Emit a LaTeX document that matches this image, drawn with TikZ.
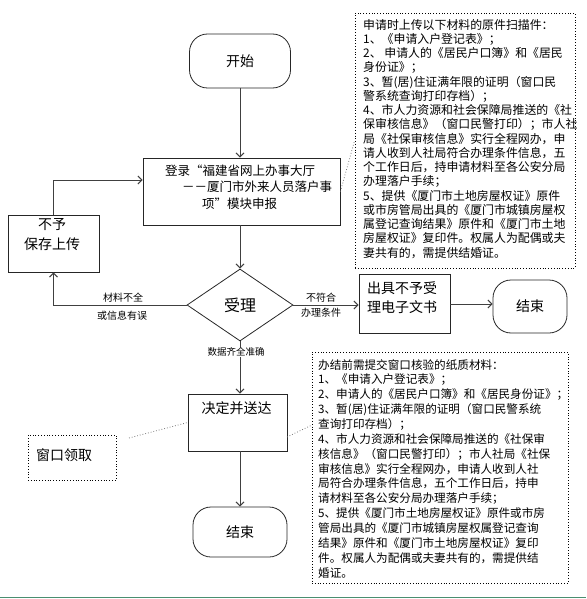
\documentclass[tikz,border=0pt]{standalone}
\usepackage{fontspec}
\setmainfont{Noto Sans CJK SC}
\usetikzlibrary{arrows.meta,shapes.geometric}
\definecolor{lineg}{RGB}{64,64,64}
\definecolor{calloutg}{RGB}{120,120,120}
\definecolor{bargreen}{RGB}{74,142,112}
\tikzset{
  box/.style={draw=black!85, line width=0.8pt, inner sep=0pt},
  term/.style={box, rounded corners=18pt},
  notebox/.style={draw=black, dotted, line width=0.8pt, inner sep=0pt},
  conn/.style={draw=lineg, line width=1pt, -{Straight Barb[length=4pt,width=8pt]}},
  callout/.style={draw=calloutg, dotted, line width=0.8pt},
  lbl/.style={font=\fontsize{10}{12}\selectfont, inner sep=1pt},
  txt/.style={inner sep=0pt}
}
\begin{document}
\begin{tikzpicture}[x=1pt,y=-1pt]
\useasboundingbox (0,0) rectangle (586,599);

% main flow
\node[term, minimum width=101pt, minimum height=54pt, font=\fontsize{14}{16}\selectfont] (start) at (240,61) {开始};
\node[box, minimum width=197pt, minimum height=67pt] (login) at (241.5,191.5) {};
\node[txt, anchor=west, align=left, font=\fontsize{12.5}{16.5}\selectfont] (logintxt) at (165,187) {登录“福建省网上办事大厅\\\hspace*{17pt}－－厦门市外来人员落户事\\\hspace*{37pt}项”模块申报};
\node[diamond, draw=black!85, line width=0.8pt, inner sep=0pt, aspect=1.47, minimum width=106pt, minimum height=72pt, font=\fontsize{16}{18}\selectfont] (dia) at (240,305) {受理};
\node[box, minimum width=91pt, minimum height=57pt] (nosave) at (53.5,243.5) {};
\node[txt, align=center, font=\fontsize{14}{20}\selectfont] (nosavetxt) at (52,235) {不予\\保存上传};
\node[box, minimum width=91pt, minimum height=59pt] (rej) at (404.5,304) {};
\node[txt, anchor=west, align=left, font=\fontsize{14}{19}\selectfont] (rejtxt) at (367,297.5) {出具不予受\\理电子文书};
\node[term, minimum width=74pt, minimum height=53pt, font=\fontsize{14}{16}\selectfont] (end1) at (530,306.5) {结束};
\node[box, minimum width=99pt, minimum height=57pt] (dec) at (237.5,422.5) {};
\node[txt, font=\fontsize{14}{16}\selectfont] (dectxt) at (236.5,408) {决定并送达};
\node[term, minimum width=94pt, minimum height=50pt, font=\fontsize{14}{16}\selectfont] (end2) at (240,532) {结束};
\node[notebox, minimum width=88pt, minimum height=45pt] (win) at (72,457.5) {};
\node[txt, anchor=west, font=\fontsize{14}{16}\selectfont] (wintxt) at (36,455) {窗口领取};

% notes
\node[notebox, minimum width=220pt, minimum height=255pt] (note1) at (465,140.5) {};
\node[txt, anchor=north west, align=left, font=\fontsize{11.9}{14.25}\selectfont] (note1txt) at (363,19) {申请时上传以下材料的原件扫描件：\\
1、《申请入户登记表》；\\
2、 申请人的《居民户口簿》和《居民\\
身份证》；\\
3、暂(居)住证满年限的证明（窗口民\\
警系统查询打印存档）；\\
4、市人力资源和社会保障局推送的《社\\
保审核信息》（窗口民警打印）；市人社\\
局《社保审核信息》实行全程网办，申\\
请人收到人社局符合办理条件信息，五\\
个工作日后，持申请材料至各公安分局\\
办理落户手续；\\
5、提供《厦门市土地房屋权证》原件\\
或市房管局出具的《厦门市城镇房屋权\\
属登记查询结果》原件和《厦门市土地\\
房屋权证》复印件。权属人为配偶或夫\\
妻共有的，需提供结婚证。};
\node[notebox, minimum width=256pt, minimum height=231pt] (note2) at (440,467.5) {};
\node[txt, anchor=north west, align=left, font=\fontsize{11.6}{14.86}\selectfont] (note2txt) at (318,359) {办结前需提交窗口核验的纸质材料：\\
1、《申请入户登记表》；\\
2、申请人的《居民户口簿》和《居民身份证》；\\
3、暂(居)住证满年限的证明（窗口民警系统\\
查询打印存档）；\\
4、市人力资源和社会保障局推送的《社保审\\
核信息》（窗口民警打印）；市人社局《社保\\
审核信息》实行全程网办，申请人收到人社\\
局符合办理条件信息，五个工作日后，持申\\
请材料至各公安分局办理落户手续；\\
5、提供《厦门市土地房屋权证》原件或市房\\
管局出具的《厦门市城镇房屋权属登记查询\\
结果》原件和《厦门市土地房屋权证》复印\\
件。权属人为配偶或夫妻共有的，需提供结\\
婚证。};

% labels
\node[lbl] (l1) at (123,298) {材料不全};
\node[lbl] (l2) at (122,316) {或信息有误};
\node[lbl] (l3) at (321,298) {不符合};
\node[lbl] (l4) at (321,313) {办理条件};

% connectors
\draw[conn] (start.south) -- (start.south |- login.north);
\draw[conn] (start.south |- login.south) -- (dia.north);
\draw[conn] (dia.west) -| (nosave.south);
\draw[conn] (nosave.north) |- ([yshift=11.5pt]login.west);
\draw[conn] (dia.east) -- (rej.west |- dia.east);
\draw[conn] (rej.east) -- (end1.west |- rej.east);
\draw[conn] (dia.south) -- (dia.south |- dec.north);
\draw[conn] (end2.north |- dec.south) -- (end2.north);
\node[lbl, fill=white, font=\fontsize{9.5}{11}\selectfont] (l5) at (236,352) {数据齐全准确};

% callouts
\draw[callout] (login.east) -- (note1.west);
\coordinate (wincall) at (129,438);
\draw[callout] (wincall) -- (dec.west);
\coordinate (deccall) at (287,437);
\coordinate (notecall) at (312,425);
\draw[callout] (deccall) -- (notecall);

% bottom rule
\draw[draw=bargreen, line width=1.5pt] (0,597.5) -- (586,597.5);
\end{tikzpicture}
\end{document}
